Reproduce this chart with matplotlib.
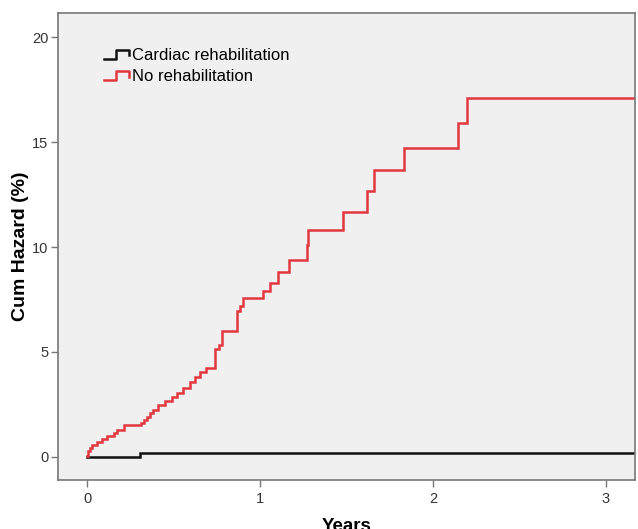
"""Cumulative hazard curves: cardiac rehabilitation vs no rehabilitation."""

import matplotlib

matplotlib.use("Agg")
import matplotlib.pyplot as plt
from matplotlib.legend_handler import HandlerBase
from matplotlib.lines import Line2D

plt.rcParams["font.family"] = ["Liberation Sans", "DejaVu Sans"]

# step start times (years) and cumulative hazard (%) from that time onward
rehab_times = [0.0, 0.306]
rehab_hazard = [0.0, 0.18]

norehab_times = [
    0.000, 0.006, 0.017, 0.031, 0.060, 0.089, 0.117, 0.156, 0.175, 0.214,
    0.310, 0.330, 0.345, 0.364, 0.383, 0.410, 0.450, 0.490, 0.520, 0.557,
    0.595, 0.624, 0.653, 0.690, 0.740, 0.760, 0.778, 0.869, 0.885, 0.904,
    1.015, 1.058, 1.106, 1.170, 1.270, 1.280, 1.478, 1.617, 1.659, 1.832,
    2.146, 2.195,
]
norehab_hazard = [
    0.03, 0.27, 0.43, 0.59, 0.71, 0.83, 0.98, 1.14, 1.30, 1.50,
    1.62, 1.78, 1.92, 2.08, 2.24, 2.45, 2.65, 2.85, 3.05, 3.30,
    3.55, 3.80, 4.05, 4.25, 5.15, 5.35, 6.00, 6.95, 7.20, 7.55,
    7.90, 8.30, 8.80, 9.38, 10.10, 10.81, 11.68, 12.65, 13.67, 14.70,
    15.89, 17.08,
]
follow_up_end = 3.25

labels = ["Cardiac rehabilitation", "No rehabilitation"]
colors = ["#111111", "#e2373f"]
x_ticks = [0, 1, 2, 3]
y_ticks = [0, 5, 10, 15, 20]


class StepHandler(HandlerBase):
    # legend key drawn as a small step like the curves
    def create_artists(self, legend, orig_handle, xdescent, ydescent,
                       width, height, fontsize, trans):
        w, h = width, height
        xs = [-xdescent, -xdescent + 0.5 * w, -xdescent + 0.5 * w, -xdescent + w, -xdescent + w]
        ys = [-ydescent + 0.1 * h, -ydescent + 0.1 * h, -ydescent + 0.85 * h,
              -ydescent + 0.85 * h, -ydescent + 0.4 * h]
        line = Line2D(xs, ys, color=orig_handle.get_color(),
                      linewidth=orig_handle.get_linewidth(), transform=trans)
        return [line]


def extend(times, values):
    return times + [follow_up_end], values + [values[-1]]


fig = plt.figure(figsize=(6.38, 5.29), dpi=100)
ax = fig.add_axes([58 / 638, 1 - 480 / 529, (635 - 58) / 638, (480 - 13) / 529])
ax.set_facecolor("#f0f0f0")

handles = []
for (t, v), lab, col in zip(
    [extend(rehab_times, rehab_hazard), extend(norehab_times, norehab_hazard)], labels, colors
):
    (h,) = ax.step(t, v, where="post", color=col, linewidth=1.8, label=lab,
                   solid_joinstyle="miter")
    handles.append(h)

ax.set_xlim(-0.168, 3.168)
ax.set_ylim(-1.1, 21.15)
ax.set_xticks(x_ticks)
ax.set_yticks(y_ticks)
ax.tick_params(direction="out", length=5, width=1, color="#777777",
               labelcolor="#333333", labelsize=10.5)
ax.tick_params(axis="y", pad=2)
for s in ax.spines.values():
    s.set_color("#777777")
    s.set_linewidth(1.2)

ax.set_xlabel("Years", fontsize=13.5, fontweight="bold", labelpad=9)
ax.set_ylabel("Cum Hazard (%)", fontsize=14, fontweight="bold", labelpad=2)

ax.legend(handles=handles, labels=labels, loc="upper left",
          bbox_to_anchor=(0.068, 0.94), frameon=False, fontsize=12,
          handlelength=1.5, handletextpad=0.2, labelspacing=0.4,
          borderaxespad=0, handler_map={Line2D: StepHandler()})

fig.savefig("out.png", dpi=100, facecolor="white")
